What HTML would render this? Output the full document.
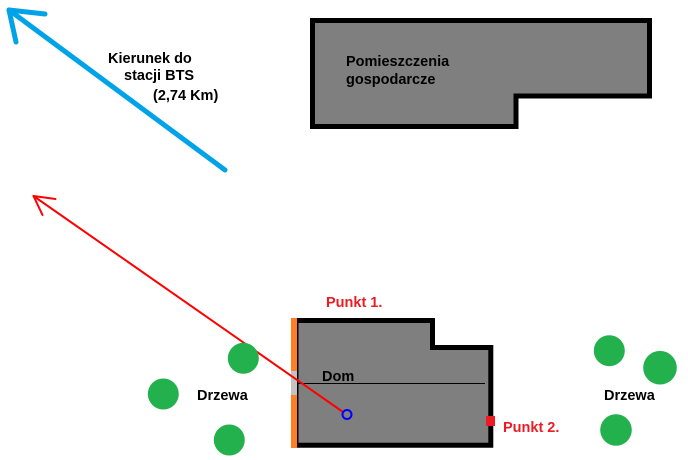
<!DOCTYPE html>
<html><head><meta charset="utf-8"><style>
html,body{margin:0;padding:0;background:#fff;}
svg{display:block;}
text{font-family:"Liberation Sans",Arial,sans-serif;font-weight:bold;font-size:14.5px;}
</style></head><body>
<svg width="688" height="460" viewBox="0 0 688 460" xmlns="http://www.w3.org/2000/svg">
<rect width="688" height="460" fill="#fff"/>
<!-- blue arrow -->
<g stroke="#00a2e8" stroke-width="5" stroke-linecap="round" fill="none">
<line x1="225" y1="170" x2="9" y2="10"/>
<line x1="9" y1="10" x2="45" y2="14"/>
<line x1="9" y1="10" x2="16" y2="42"/>
</g>
<text x="108" y="63" fill="#000">Kierunek do</text>
<text x="124" y="80" fill="#000">stacji BTS</text>
<text x="153" y="100" fill="#000">(2,74 Km)</text>
<!-- Pomieszczenia -->
<polygon points="312.5,20.5 649.5,20.5 649.5,96 516,96 516,126.5 312.5,126.5" fill="#7f7f7f" stroke="#000" stroke-width="5"/>
<text x="346" y="66" fill="#000">Pomieszczenia</text>
<text x="346" y="84" fill="#000">gospodarcze</text>
<!-- Dom -->
<polygon points="296,320.5 432.5,320.5 432.5,347.5 490.8,347.5 490.8,445.2 296,445.2" fill="#7f7f7f" stroke="#000" stroke-width="5"/>
<rect x="291" y="318" width="6" height="130" fill="#ff7f27"/>
<rect x="291" y="371" width="6" height="24" fill="#c3c3c3"/>
<line x1="297" y1="383.5" x2="485" y2="383.5" stroke="#000" stroke-width="1"/>
<text x="322" y="381" fill="#000">Dom</text>
<!-- red line -->
<g stroke="#ff0000" stroke-width="2" fill="none" stroke-linecap="round">
<line x1="343" y1="412" x2="33.5" y2="196"/>
<line x1="33.5" y1="196" x2="55.5" y2="199"/>
<line x1="33.5" y1="196" x2="42.5" y2="215"/>
</g>
<circle cx="347" cy="414.5" r="4.5" fill="none" stroke="#0000ff" stroke-width="2"/>
<rect x="486" y="416" width="9" height="10" fill="#ed1c24"/>
<text x="326" y="307" fill="#ed1c24">Punkt 1.</text>
<text x="503" y="432" fill="#ed1c24">Punkt 2.</text>
<!-- trees -->
<g fill="#22b14c">
<circle cx="243.3" cy="358.3" r="15.5"/>
<circle cx="163.3" cy="394" r="15.5"/>
<circle cx="229.3" cy="440" r="15.5"/>
<circle cx="609.3" cy="350.7" r="15.5"/>
<circle cx="660" cy="367.7" r="16.8"/>
<circle cx="616" cy="430" r="15.8"/>
</g>
<text x="197" y="400" fill="#000">Drzewa</text>
<text x="604" y="400" fill="#000">Drzewa</text>
</svg>
</body></html>
